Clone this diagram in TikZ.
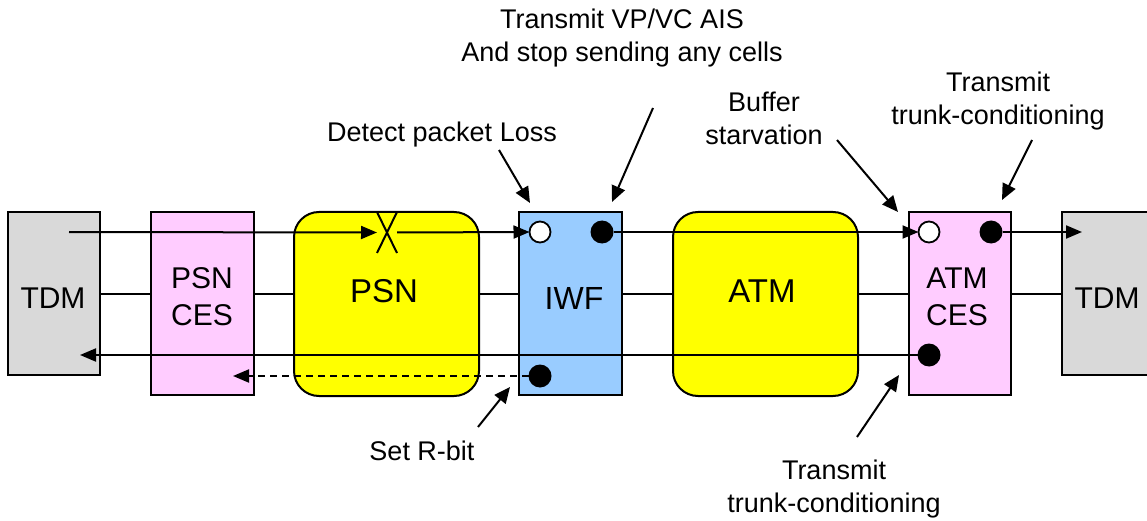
\documentclass[tikz,border=0pt]{standalone}
\usepackage{fontspec}
\setmainfont{Liberation Sans}
\usetikzlibrary{arrows.meta,shapes.misc}
\definecolor{tdmgray}{HTML}{D9D9D9}
\definecolor{cespink}{HTML}{FFCCFF}
\definecolor{netyellow}{HTML}{FFFF00}
\definecolor{iwfblue}{HTML}{99CCFF}
\tikzset{
  box/.style={draw=black, line width=2pt, inner sep=0pt, outer sep=0pt},
  link/.style={line width=2pt},
  flowtip/.style={-{Triangle[length=16pt,width=13pt]}},
  callout/.style={line width=2pt, -{Triangle[length=16pt,width=14pt]}},
  note/.style={font=\fontsize{27}{33}\selectfont, align=center, inner sep=0pt},
  big/.style={font=\fontsize{30}{37}\selectfont, align=center, inner sep=0pt},
  bigger/.style={font=\fontsize{33}{37}\selectfont, align=center, inner sep=0pt},
  dotopen/.style={circle, draw=black, fill=white, line width=1.8pt, minimum size=21pt, inner sep=0pt, outer sep=0pt},
  dotfull/.style={circle, fill=black, minimum size=23pt, inner sep=0pt, outer sep=0pt},
  lossmark/.style={cross out, draw=black, line width=2pt, minimum width=20pt, minimum height=41pt, inner sep=0pt, outer sep=0pt}
}
\begin{document}
\begin{tikzpicture}[x=1pt,y=-1pt]
\useasboundingbox (0,0) rectangle (1147,521);
\clip (0,0) rectangle (1147,521);
\fill[white] (0,0) rectangle (1147,521);

% boxes
\node[box, fill=tdmgray, minimum width=92pt, minimum height=163pt] (tdmL) at (54,293.5) {};
\node[box, fill=cespink, minimum width=103pt, minimum height=183pt] (psnces) at (202,303.5) {};
\node[box, fill=netyellow, rounded corners=25pt, minimum width=185pt, minimum height=184pt] (psn) at (386.5,304) {};
\node[box, fill=iwfblue, minimum width=103pt, minimum height=183pt] (iwf) at (570.5,303.5) {};
\node[box, fill=netyellow, rounded corners=25pt, minimum width=185pt, minimum height=184pt] (atm) at (765.5,304) {};
\node[box, fill=cespink, minimum width=102pt, minimum height=183pt] (atmces) at (960,303.5) {};
\node[box, fill=tdmgray, minimum width=116pt, minimum height=163pt] (tdmR) at (1120,293.5) {};

% labels in boxes
\node[big, anchor=base] (tdmLt) at (53,308) {TDM};
\node[big, anchor=center] (psncest) at (202,296.7) {PSN\\CES};
\node[bigger, anchor=base] (psnt) at (384,302) {PSN};
\node[font=\fontsize{32}{37}\selectfont, inner sep=0pt, anchor=base] (iwft) at (574,309) {IWF};
\node[bigger, anchor=base] (atmt) at (762,302) {ATM};
\node[big, anchor=center] (atmcest) at (957,296.7) {ATM\\CES};
\node[big, anchor=base] (tdmRt) at (1107,308) {TDM};

% points on the paths
\coordinate (mid) at (0,294);
\coordinate (tin) at (69,232);
\coordinate (tdmRin) at (1082,232);
\coordinate (tdmLin) at (80,355);
\coordinate (cesLin) at (233,376);
\node[lossmark] (loss) at (387,232.5) {};
\node[dotopen] (iwfin) at (540,232) {};
\node[dotfull] (iwfout) at (602,232) {};
\node[dotfull] (iwfback) at (540,376) {};
\node[dotopen] (cesin) at (929,232) {};
\node[dotfull] (cesout) at (991,232) {};
\node[dotfull] (cesback) at (929,355) {};

% middle links
\draw[link] (tdmL.east |- mid) -- (psnces.west |- mid);
\draw[link] (psnces.east |- mid) -- (psn.west |- mid);
\draw[link] (psn.east |- mid) -- (iwf.west |- mid);
\draw[link] (iwf.east |- mid) -- (atm.west |- mid);
\draw[link] (atm.east |- mid) -- (atmces.west |- mid);
\draw[link] (atmces.east |- mid) -- (tdmR.west |- mid);

% forward path
\draw[link, flowtip] (tin) -- (loss.west);
\draw[link, flowtip] (loss.east) -- (iwfin.west);
\draw[link, flowtip] (iwfout.east) -- (cesin.west);
\draw[link, flowtip] (cesout.east) -- (tdmRin);

% backward paths
\draw[link, flowtip] (cesback.west) -- (tdmLin);
\draw[link, flowtip, dash pattern=on 7pt off 5pt] (iwfback.west) -- (cesLin);

% annotations
\node[note] (ais) at (622,38.5) {Transmit VP/VC AIS\\And stop sending any cells};
\node[note, anchor=base] (detect) at (442,142) {Detect packet Loss};
\node[note] (buffer) at (764,118.7) {Buffer\\starvation};
\node[note] (trunkTop) at (998,101.5) {Transmit\\trunk-conditioning};
\node[note, anchor=base] (rbit) at (422,460) {Set R-bit};
\node[note] (trunkBot) at (834,489.5) {Transmit\\trunk-conditioning};

\coordinate (a1s) at (499,150); \coordinate (a1e) at (530,203);
\coordinate (a2s) at (653,108); \coordinate (a2e) at (612,202);
\coordinate (a3s) at (837,140); \coordinate (a3e) at (898,212);
\coordinate (a4s) at (1032,140); \coordinate (a4e) at (1002,200);
\coordinate (a5s) at (478,427); \coordinate (a5e) at (510,387);
\coordinate (a6s) at (857,437); \coordinate (a6e) at (899,375);
\draw[callout] (a1s) -- (a1e);
\draw[callout] (a2s) -- (a2e);
\draw[callout] (a3s) -- (a3e);
\draw[callout] (a4s) -- (a4e);
\draw[callout] (a5s) -- (a5e);
\draw[callout] (a6s) -- (a6e);
\end{tikzpicture}
\end{document}
